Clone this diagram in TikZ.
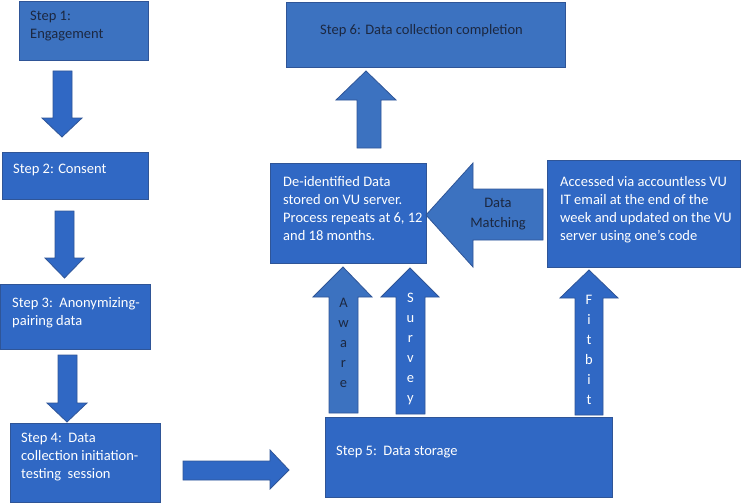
\documentclass[tikz,border=0pt]{standalone}
\usepackage{fontspec}
\setmainfont{Carlito}
\definecolor{boxblue}{HTML}{3068C4}
\definecolor{lightblue}{HTML}{3C72C0}
\definecolor{edgeblue}{HTML}{2F5597}
\definecolor{darktxt}{HTML}{1C2841}
\begin{document}
\begin{tikzpicture}[x=1pt,y=-1pt,
  box/.style={draw=edgeblue,line width=0.8pt,fill=boxblue,anchor=north west,inner sep=0pt,outer sep=0pt},
  lbox/.style={box,fill=lightblue},
  blk/.style={draw=edgeblue,line width=0.8pt,fill=boxblue},
  lblk/.style={blk,fill=lightblue},
  txt/.style={anchor=north west,inner sep=0pt,align=left,font=\fontsize{14.5}{18}\selectfont,text=white},
  dtxt/.style={txt,text=darktxt},
  vtxt/.style={inner sep=0pt,align=center,font=\fontsize{14.5}{20}\selectfont,text=white},
  dvtxt/.style={vtxt,text=darktxt}]
\useasboundingbox (0,0) rectangle (742,503);
% boxes
\node[lbox,minimum width=129pt,minimum height=59pt] (s1) at (19,1) {};
\node[box,minimum width=146pt,minimum height=47pt] (s2) at (2,152) {};
\node[box,minimum width=150pt,minimum height=65pt] (s3) at (0,284) {};
\node[box,minimum width=150pt,minimum height=79pt] (s4) at (10,423) {};
\node[box,minimum width=287pt,minimum height=80pt] (s5) at (325,417) {};
\node[lbox,minimum width=279pt,minimum height=65pt] (s6) at (286,2) {};
\node[box,minimum width=156pt,minimum height=100pt] (deid) at (270,163) {};
\node[box,minimum width=193pt,minimum height=107pt] (acc) at (547,160) {};
% texts
\node[dtxt] (t1) at (30,11) {Step 1:\\Engagement};
\node[txt] (t2) at (13,164) {Step 2: Consent};
\node[txt] (t3) at (12,297) {Step 3:\ \ Anonymizing-\\pairing data};
\node[txt] (t4) at (21,433) {Step 4:\ \ Data\\collection initiation-\\testing\ \ session};
\node[txt] (t5) at (336,446) {Step 5:\ \ Data storage};
\node[dtxt] (t6) at (320,24) {Step 6: Data collection completion};
\node[txt] (td) at (283,176) {De-identified Data\\stored on VU server.\\Process repeats at 6, 12\\and 18 months.};
\node[txt] (ta) at (560,176) {Accessed via accountless VU\\IT email at the end of the\\week and updated on the VU\\server using one’s code};
% block arrows
\draw[blk] (53,71) -- (72,71) -- (72,118) -- (82,118) -- (62,137) -- (42,118) -- (53,118) -- cycle;
\draw[blk] (55,211) -- (74,211) -- (74,258) -- (84,258) -- (64.5,278) -- (45,258) -- (55,258) -- cycle;
\draw[blk] (58,355) -- (77,355) -- (77,403) -- (87,403) -- (67,422) -- (47,403) -- (58,403) -- cycle;
\draw[blk] (183,461) -- (270,461) -- (270,450) -- (289,470) -- (270,489) -- (270,480) -- (183,480) -- cycle;
\draw[lblk] (357,148) -- (357,100) -- (336,100) -- (366,71) -- (396,100) -- (381,100) -- (381,148) -- cycle;
\draw[lblk] (329,413) -- (329,297) -- (313,297) -- (343,267) -- (372,297) -- (358,297) -- (358,413) -- cycle;
\draw[blk] (396,414) -- (396,297) -- (381,297) -- (410,268) -- (439,297) -- (425,297) -- (425,414) -- cycle;
\draw[blk] (575,415) -- (575,298) -- (560,298) -- (589,270) -- (618,298) -- (603,298) -- (603,415) -- cycle;
\draw[lblk] (543,189) -- (473,189) -- (473,163) -- (426,215) -- (473,267) -- (473,240) -- (543,240) -- cycle;
% arrow labels
\node[dvtxt] (aw) at (343.5,343) {A\\w\\a\\r\\e};
\node[vtxt] (sv) at (410.5,349) {S\\u\\r\\v\\e\\y};
\node[vtxt] (fb) at (589,350) {F\\i\\t\\b\\i\\t};
\node[dvtxt,font=\fontsize{14.5}{20}\selectfont] (dm) at (498,214) {Data\\Matching};
\end{tikzpicture}
\end{document}
